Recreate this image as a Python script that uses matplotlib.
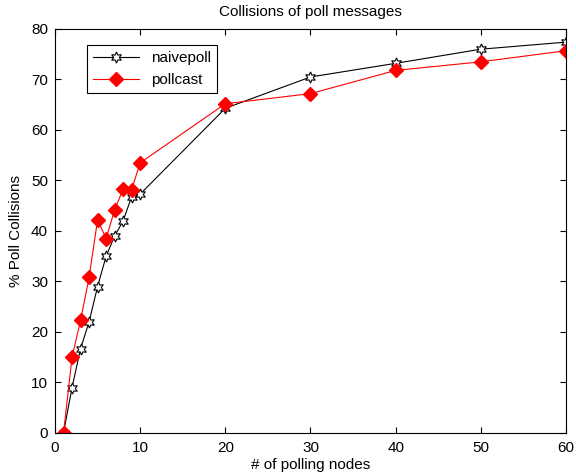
import matplotlib
matplotlib.use("Agg")
import matplotlib.pyplot as plt

nodes = [1, 2, 3, 4, 5, 6, 7, 8, 9, 10, 20, 30, 40, 50, 60]
naivepoll = [0, 9.0, 16.7, 22.0, 29.0, 35.0, 39.0, 42.0, 46.8, 47.3, 64.3, 70.5, 73.2, 76.0, 77.4]
pollcast = [0, 15.0, 22.3, 30.8, 42.2, 38.5, 44.2, 48.3, 48.2, 53.5, 65.2, 67.2, 71.8, 73.5, 75.7]

plt.rcParams['font.family'] = ['Liberation Sans', 'DejaVu Sans']
plt.rcParams['font.size'] = 11

fig = plt.figure(figsize=(5.76, 4.73), dpi=100)
ax = fig.add_axes([0.0955, 0.0846, 0.8871, 0.8541])

ax.plot(nodes, naivepoll, color='black', linewidth=0.8, marker=(6, 1, 0), markersize=8,
        markerfacecolor='white', markeredgecolor='black', markeredgewidth=0.8, label='naivepoll')
ax.plot(nodes, pollcast, color='red', linewidth=0.8, marker='D', markersize=7,
        markerfacecolor='red', markeredgecolor='red', label='pollcast')

ax.set_xlim(0, 60)
ax.set_ylim(0, 80)
ax.set_xticks(range(0, 61, 10))
ax.set_yticks(range(0, 81, 10))
ax.tick_params(direction='in', top=True, right=True, length=4, labelsize=11)
ax.tick_params(axis='x', pad=6)
ax.tick_params(axis='y', pad=5)
ax.set_title("Collisions of poll messages", fontsize=11, pad=9)
ax.set_xlabel("# of polling nodes", fontsize=11, labelpad=2)
ax.set_ylabel("% Poll Collisions", fontsize=11, labelpad=6)

leg = ax.legend(loc='upper left', bbox_to_anchor=(0.062, 0.96), fancybox=False, edgecolor='black',
                framealpha=1, fontsize=11, handlelength=3, borderaxespad=0)
leg.get_frame().set_linewidth(0.8)

fig.savefig("out.png", dpi=100)
